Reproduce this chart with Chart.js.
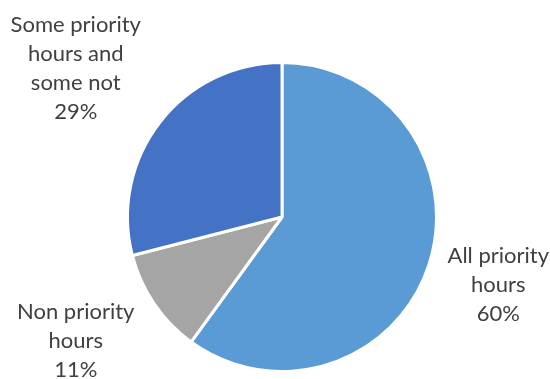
<!DOCTYPE html>
<html>
<head>
<meta charset="utf-8">
<script src="https://cdn.jsdelivr.net/npm/chart.js@4"></script>
<style>
  html, body { margin: 0; padding: 0; background: #fff; }
  #wrap { width: 550px; height: 379px; }
</style>
</head>
<body>
<div id="wrap"><canvas id="hours-chart" width="550" height="379"></canvas></div>
<script>
// Share of hours worked by priority status
const labels = [
  ['All priority', 'hours'],
  ['Non priority', 'hours'],
  ['Some priority', 'hours and', 'some not']
];
const shares = [60, 11, 29];
const colors = ['#5b9bd5', '#a5a5a5', '#4472c4'];

// label centres relative to the pie centre, in units of the radius
const labelSpots = [[1.40, 0.44], [-1.335, 0.805], [-1.335, -0.96]];

const outsideLabels = {
  id: 'outsideLabels',
  afterDatasetsDraw(chart) {
    const ctx = chart.ctx;
    const meta = chart.getDatasetMeta(0);
    ctx.save();
    ctx.fillStyle = '#404040';
    ctx.font = '22px Lato, "Open Sans", sans-serif';
    ctx.textAlign = 'center';
    ctx.textBaseline = 'middle';
    meta.data.forEach((arc, i) => {
      const r = arc.outerRadius;
      const x = arc.x + labelSpots[i][0] * r;
      const y = arc.y + labelSpots[i][1] * r;
      const lines = labels[i].concat([shares[i] + '%']);
      const lh = 29;
      const top = y - (lines.length - 1) * lh / 2;
      lines.forEach((t, j) => ctx.fillText(t, x, top + j * lh));
    });
    ctx.restore();
  }
};

new Chart(document.getElementById('hours-chart'), {
  type: 'pie',
  data: {
    labels: labels.map(l => l.join(' ')),
    datasets: [{
      data: shares,
      backgroundColor: colors,
      borderColor: '#ffffff',
      borderWidth: 3
    }]
  },
  options: {
    responsive: false,
    animation: false,
    layout: { padding: { left: 126, right: 112, top: 61, bottom: 6 } },
    plugins: {
      legend: { display: false },
      tooltip: { enabled: false }
    }
  },
  plugins: [outsideLabels]
});
</script>
</body>
</html>
